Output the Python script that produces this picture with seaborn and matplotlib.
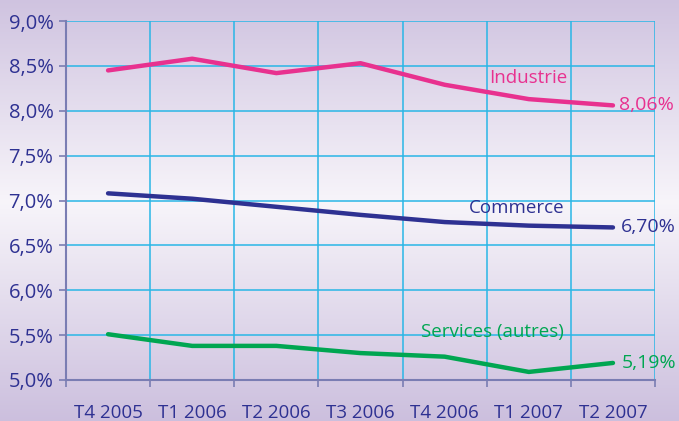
import numpy as np
import pandas as pd
import matplotlib
matplotlib.use("Agg")
import matplotlib.pyplot as plt
import seaborn as sns

quarters = ["T4 2005", "T1 2006", "T2 2006", "T3 2006", "T4 2006", "T1 2007", "T2 2007"]
industrie = [8.45, 8.58, 8.42, 8.53, 8.29, 8.13, 8.06]
commerce = [7.08, 7.02, 6.93, 6.84, 6.76, 6.72, 6.70]
services = [5.51, 5.38, 5.38, 5.30, 5.26, 5.09, 5.19]
series_names = ["Industrie", "Commerce", "Services (autres)"]
end_labels = ["8,06%", "6,70%", "5,19%"]

colors = {"Industrie": "#e8318f", "Commerce": "#2e3192", "Services (autres)": "#00a651"}
tick_col = "#2e3192"

df = pd.DataFrame({
    "x": list(range(len(quarters))) * 3,
    "val": industrie + commerce + services,
    "serie": [s for s in series_names for _ in quarters],
})

sns.set_style("white")
plt.rcParams["font.family"] = ["Open Sans", "DejaVu Sans"]

fig = plt.figure(figsize=(6.79, 4.21), dpi=100)

# background gradient: lavender top and bottom, pale in the middle
bg = fig.add_axes([0, 0, 1, 1], zorder=0)
t = np.linspace(0, 1, 256)
w = np.clip(1 - np.abs(t - 0.48) / 0.52, 0, 1)
top = np.array([0.80, 0.75, 0.87])
mid = np.array([0.97, 0.96, 0.98])
grad = top[None, :] * (1 - w[:, None]) + mid[None, :] * w[:, None]
bg.imshow(grad[:, None, :], aspect="auto", extent=[0, 1, 0, 1])
bg.axis("off")

ax = fig.add_axes([0.0972, 0.0974, 0.8675, 0.8526], zorder=1)
ax.patch.set_alpha(0)

sns.lineplot(data=df, x="x", y="val", hue="serie", palette=colors, lw=3.2,
             legend=False, ax=ax, zorder=3)

ax.set_xlim(-0.5, len(quarters) - 0.5)
ax.set_ylim(5.0, 9.0)
yt = np.arange(5.0, 9.01, 0.5)
ax.set_yticks(yt)
ax.set_yticklabels([f"{v:.1f}%".replace(".", ",") for v in yt])
ax.set_xticks(range(len(quarters)))
ax.set_xticklabels(quarters)
ax.set_xticks(np.arange(-0.5, len(quarters), 1.0), minor=True)
ax.set_xlabel("")
ax.set_ylabel("")

ax.grid(False)
ax.grid(True, axis="y", which="major", color="#29b6e6", lw=1.1, zorder=1)
ax.grid(True, axis="x", which="minor", color="#29b6e6", lw=1.1, zorder=1)

for s in ["top", "right"]:
    ax.spines[s].set_visible(False)
for s in ["left", "bottom"]:
    ax.spines[s].set_color("#7a7db3")
    ax.spines[s].set_linewidth(1.5)

ax.tick_params(axis="x", which="major", length=0, pad=17, labelsize=13.5, labelcolor=tick_col)
ax.tick_params(axis="x", which="minor", length=5, width=1.2, color="#7a7db3", bottom=True)
ax.tick_params(axis="y", length=5, width=1.2, color="#7a7db3", left=True,
               labelsize=14.5, labelcolor=tick_col, pad=4)

# series names and end values
ax.text(4.99, 8.37, "Industrie", color=colors["Industrie"], fontsize=13.5, ha="center", va="center")
ax.text(6.07, 8.06, end_labels[0], color=colors["Industrie"], fontsize=14, va="center")
ax.text(4.86, 6.92, "Commerce", color=colors["Commerce"], fontsize=13.5, ha="center", va="center")
ax.text(6.1, 6.70, end_labels[1], color=colors["Commerce"], fontsize=14, va="center")
ax.text(4.57, 5.53, "Services (autres)", color=colors["Services (autres)"], fontsize=13.5,
        ha="center", va="center")
ax.text(6.1, 5.19, end_labels[2], color=colors["Services (autres)"], fontsize=14, va="center")

fig.savefig("out.png", dpi=100)
